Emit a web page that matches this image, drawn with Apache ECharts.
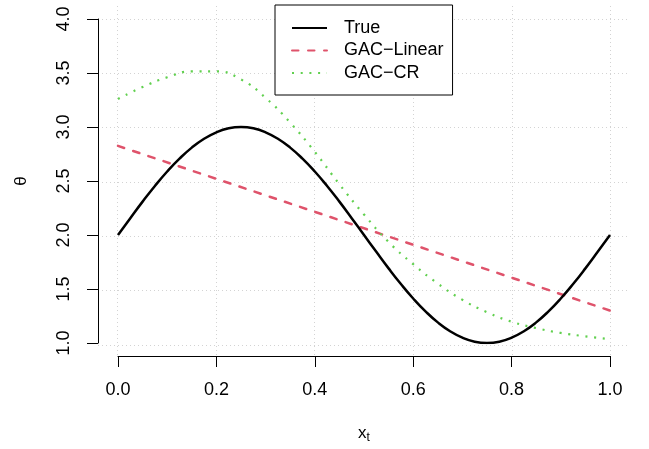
<!DOCTYPE html>
<html>
<head>
<meta charset="utf-8">
<script src="https://cdn.jsdelivr.net/npm/echarts@6/dist/echarts.min.js"></script>
<style>html,body{margin:0;padding:0;background:#fff}#c{width:649px;height:449px}</style>
</head>
<body>
<div id="c"></div>
<script>
const xTrue = [0,0.025,0.05,0.075,0.1,0.125,0.15,0.175,0.2,0.225,0.25,0.275,0.3,0.325,0.35,0.375,0.4,0.425,0.45,0.475,0.5,
               0.525,0.55,0.575,0.6,0.625,0.65,0.675,0.7,0.725,0.75,0.775,0.8,0.825,0.85,0.875,0.9,0.925,0.95,0.975,1.0];
const trueVals = [2.0,2.156,2.309,2.454,2.588,2.707,2.809,2.891,2.951,2.988,3.0,2.988,2.951,2.891,2.809,2.707,2.588,2.454,2.309,2.156,2.0,
                  1.844,1.691,1.546,1.412,1.293,1.191,1.109,1.049,1.012,1.0,1.012,1.049,1.109,1.191,1.293,1.412,1.546,1.691,1.844,2.0];
const linX = [0,0.5,1.0];
const linVals = [2.825,2.062,1.30];
const xCR = [0,0.05,0.1,0.15,0.2,0.25,0.3,0.35,0.4,0.45,0.5,0.55,0.6,0.65,0.7,0.75,0.8,0.85,0.9,0.95,1.0];
const crVals = [3.26,3.37,3.46,3.515,3.515,3.44,3.27,3.04,2.77,2.47,2.19,1.935,1.73,1.55,1.40,1.285,1.197,1.138,1.093,1.062,1.035];
const xTicks = [0,0.2,0.4,0.6,0.8,1.0];
const yTicks = [1.0,1.5,2.0,2.5,3.0,3.5,4.0];
const seriesNames = ['True','GAC\u2212Linear','GAC\u2212CR'];

const FONT = 'Liberation Sans, Arial, Helvetica, sans-serif';
const FS = 18;
const pair = (xs, ys) => xs.map((x, i) => [x, ys[i]]);
const chart = echarts.init(document.getElementById('c'), null, {renderer: 'canvas'});
const dotted = {show: true, lineStyle: {color: '#d3d3d3', type: [1, 3], width: 1}};
chart.setOption({
  animation: false,
  backgroundColor: '#fff',
  textStyle: {fontFamily: FONT},
  grid: [
    {left: 98, top: 6, width: 532, height: 352},
    {left: 118, top: 19, width: 492, height: 326}
  ],
  xAxis: [
    {gridIndex: 0, type: 'value', min: -0.04, max: 1.04,
     axisLine: {show: false}, axisTick: {show: false, customValues: xTicks},
     axisLabel: {show: false, customValues: xTicks}, splitLine: dotted},
    {gridIndex: 1, type: 'value', min: 0, max: 1, interval: 0.2, offset: 13,
     axisLine: {show: true, onZero: false, lineStyle: {color: '#000', width: 1}},
     axisTick: {show: true, length: 11, lineStyle: {color: '#000'}},
     axisLabel: {color: '#000', fontSize: FS, margin: 25, fontFamily: FONT,
                 formatter: v => v.toFixed(1)},
     splitLine: {show: false},
     name: '{x|x}{t|t}', nameLocation: 'middle', nameGap: 66,
     nameTextStyle: {color: '#000', fontFamily: FONT,
       rich: {x: {fontSize: 17, color: '#000', fontFamily: FONT},
              t: {fontSize: 12, color: '#000', fontFamily: FONT, padding: [10, 0, 0, 0]}}}}
  ],
  yAxis: [
    {gridIndex: 0, type: 'value', min: 0.88, max: 4.12,
     axisLine: {show: false}, axisTick: {show: false, customValues: yTicks},
     axisLabel: {show: false, customValues: yTicks}, splitLine: dotted},
    {gridIndex: 1, type: 'value', min: 1, max: 4, interval: 0.5, offset: 20,
     axisLine: {show: true, onZero: false, lineStyle: {color: '#000', width: 1}},
     axisTick: {show: true, length: 11, lineStyle: {color: '#000'}},
     axisLabel: {color: '#000', fontSize: FS, margin: 25, rotate: 90, fontFamily: FONT,
                 formatter: v => v.toFixed(1)},
     splitLine: {show: false},
     name: '\u03b8', nameLocation: 'middle', nameGap: 68, nameRotate: 90,
     nameTextStyle: {color: '#000', fontSize: 17, fontFamily: FONT}}
  ],
  legend: {
    orient: 'vertical', left: 275, top: 5,
    data: seriesNames,
    borderColor: '#000', borderWidth: 1, borderRadius: 0,
    padding: [14, 9, 13, 16],
    itemWidth: 35, itemHeight: 14, itemGap: 4.5,
    itemStyle: {opacity: 0},
    textStyle: {fontSize: FS, color: '#000', fontFamily: FONT, padding: [0, 0, 0, 12]},
    backgroundColor: '#fff'
  },
  series: [
    {name: seriesNames[0], type: 'line', xAxisIndex: 1, yAxisIndex: 1,
     data: pair(xTrue, trueVals), smooth: true, symbol: 'none', color: '#000',
     lineStyle: {color: '#000', width: 2.5}, z: 3},
    {name: seriesNames[1], type: 'line', xAxisIndex: 1, yAxisIndex: 1,
     data: pair(linX, linVals), symbol: 'none', color: '#DF536B',
     lineStyle: {color: '#DF536B', width: 2.5, type: [6.5, 9.5], cap: 'round'}, z: 2},
    {name: seriesNames[2], type: 'line', xAxisIndex: 1, yAxisIndex: 1,
     data: pair(xCR, crVals), smooth: true, symbol: 'none', color: '#61D04F',
     lineStyle: {color: '#61D04F', width: 2.2, type: [2, 6.7]}, z: 2}
  ]
});
</script>
</body>
</html>
